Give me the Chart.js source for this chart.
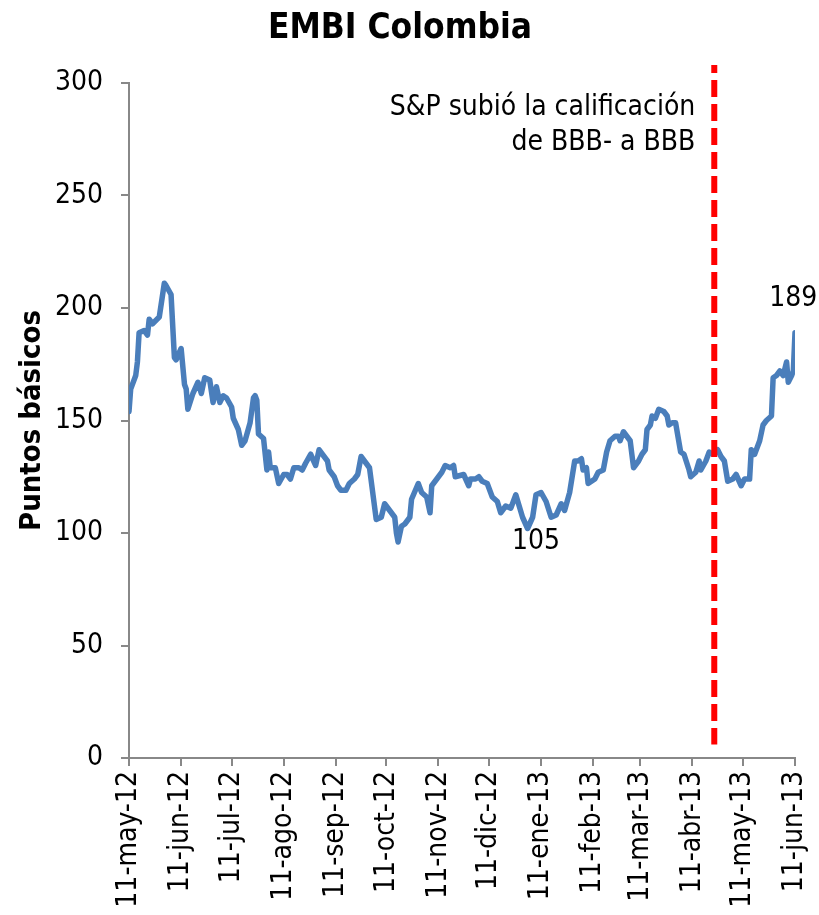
<!DOCTYPE html>
<html>
<head>
<meta charset="utf-8">
<script src="https://cdn.jsdelivr.net/npm/chart.js@4.4.1/dist/chart.umd.min.js"></script>
<style>
html,body{margin:0;padding:0;background:#fff;overflow:hidden;}
#wrap{width:819px;height:915px;position:relative;}
</style>
</head>
<body>
<div id="wrap"><canvas id="c" width="819" height="915"></canvas></div>
<script>
// Days since 11-may-12
const days = [0,1,4,5,6,9,11,12,14,18,21,22,25,27,28,31,33,34,35,38,41,43,45,48,50,52,54,56,58,61,62,65,67,69,72,74,75,76,77,80,82,83,84,87,89,92,94,96,98,101,103,105,108,111,113,115,118,119,122,124,126,129,131,134,136,138,140,143,147,150,152,155,158,159,160,162,164,167,168,172,174,177,179,180,183,186,188,191,193,194,199,202,203,206,208,210,213,216,219,221,224,227,230,232,234,237,240,242,245,248,251,254,257,259,262,265,267,269,270,272,273,277,279,282,284,286,289,291,292,294,296,298,300,303,305,307,308,310,311,313,315,318,320,321,323,325,328,330,333,334,337,339,340,343,345,347,350,352,354,356,359,361,364,366,369,370,372,374,375,377,379,382,383,385,387,389,391,392,394,395,396];
const embi = [154,164,170,176,189,190,188,195,193,196,211,210,206,178,177,182,166,164,155,162,167,162,169,168,158,165,158,161,160,156,151,146,139,141,149,160,161,159,144,142,128,136,129,129,122,126,126,124,129,129,128,131,135,130,137,135,132,128,125,121,119,119,122,124,126,134,132,129,106,107,113,110,107,100,96,103,104,107,115,122,118,116,109,121,124,127,130,129,130,125,126,121,124,124,125,123,122,116,114,109,112,111,117,112,107,102,107,117,118,114,107,108,113,110,118,132,132,133,128,129,122,124,127,128,136,141,143,143,141,145,143,141,129,132,135,137,146,148,152,151,155,154,152,148,149,149,136,135,128,125,127,132,128,132,136,135,137,134,132,123,124,126,121,124,124,137,135,139,141,148,150,152,169,170,172,170,176,167,170,172,189];
const tickDays = [0,31,61,92,123,153,184,214,245,276,304,335,365,396];
const tickLabels = ['11-may-12','11-jun-12','11-jul-12','11-ago-12','11-sep-12','11-oct-12','11-nov-12','11-dic-12','11-ene-13','11-feb-13','11-mar-13','11-abr-13','11-may-13','11-jun-13'];
const yTicks = [0,50,100,150,200,250,300];
const ratingDay = 348;
const titleText = 'EMBI Colombia';
const yTitle = 'Puntos básicos';
const noteLines = ['S&P subió la calificación','de BBB- a BBB'];
const minLabel = {day: 242, value: 96, text: '105'};
const lastLabel = {day: 395, value: 204, text: '189'};

const FONT = '"DejaVu Sans Condensed", "DejaVu Sans", sans-serif';
const axisColor = '#888888';

const overlay = {
  id: 'overlay',
  afterDatasetsDraw(chart) {
    const {ctx, scales:{x, y}} = chart;
    ctx.save();
    // red dashed line
    const lx = x.getPixelForValue(ratingDay);
    ctx.strokeStyle = '#ff0000';
    ctx.lineWidth = 6;
    ctx.setLineDash([17, 7]);
    ctx.lineDashOffset = 9;
    ctx.beginPath();
    ctx.moveTo(lx, y.getPixelForValue(308));
    ctx.lineTo(lx, y.getPixelForValue(6));
    ctx.stroke();
    ctx.setLineDash([]);
    // annotation text
    ctx.fillStyle = '#000';
    ctx.font = '28px ' + FONT;
    ctx.textAlign = 'right';
    ctx.textBaseline = 'middle';
    ctx.fillText(noteLines[0], lx - 19, y.getPixelForValue(289));
    ctx.fillText(noteLines[1], lx - 19, y.getPixelForValue(273.5));
    ctx.textAlign = 'center';
    ctx.fillText(minLabel.text, x.getPixelForValue(minLabel.day), y.getPixelForValue(minLabel.value));
    ctx.fillText(lastLabel.text, x.getPixelForValue(lastLabel.day), y.getPixelForValue(lastLabel.value));
    // title
    ctx.font = 'bold 35px ' + FONT;
    ctx.fillText(titleText, 400, 29);
    ctx.restore();
  }
};

new Chart(document.getElementById('c'), {
  type: 'line',
  data: {
    datasets: [{
      data: days.map((d, i) => ({x: d, y: embi[i]})),
      borderColor: '#4a7ebb',
      borderWidth: 5.5,
      pointRadius: 0,
      tension: 0,
      fill: false,
      borderJoinStyle: 'round',
      borderCapStyle: 'round'
    }]
  },
  options: {
    responsive: false,
    animation: false,
    devicePixelRatio: 1,
    layout: {padding: {left: 0, right: 24, top: 83, bottom: 0}},
    plugins: {legend: {display: false}, tooltip: {enabled: false}, title: {display: false}},
    scales: {
      x: {
        type: 'linear',
        min: 0, max: 396,
        afterBuildTicks(s) { s.ticks = tickDays.map(v => ({value: v})); },
        afterFit(s) { s.height = 915 - 758; s.paddingLeft = 0; s.paddingRight = 0; },
        ticks: {
          autoSkip: false, minRotation: 90, maxRotation: 90,
          padding: 5,
          color: '#000',
          font: {family: FONT, size: 28},
          callback(v, i) { return tickLabels[i]; }
        },
        grid: {drawOnChartArea: false, drawTicks: true, tickLength: 8, color: axisColor, lineWidth: 2},
        border: {color: axisColor, width: 2}
      },
      y: {
        min: 0, max: 300,
        afterBuildTicks(s) { s.ticks = yTicks.map(v => ({value: v})); },
        afterFit(s) { s.width = 129; s.paddingTop = 0; s.paddingBottom = 0; },
        ticks: {padding: 18, color: '#000', font: {family: FONT, size: 28}},
        grid: {drawOnChartArea: false, drawTicks: true, tickLength: 8, color: axisColor, lineWidth: 2},
        border: {color: axisColor, width: 2},
        title: {display: true, text: yTitle, color: '#000', font: {family: FONT, size: 29, weight: 'bold'}, padding: {top: 15, bottom: 0}}
      }
    }
  },
  plugins: [overlay]
});
</script>
</body>
</html>
